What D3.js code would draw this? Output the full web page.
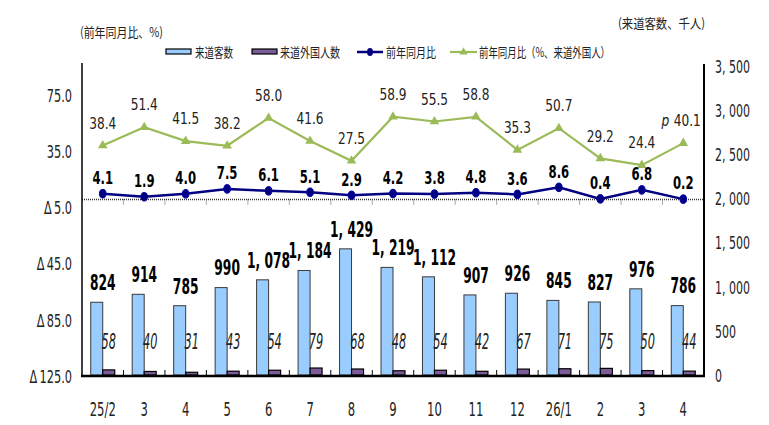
<!DOCTYPE html>
<html>
<head>
<meta charset="utf-8">
<script src="https://cdn.jsdelivr.net/npm/d3@7"></script>
<style>
  html, body { margin: 0; padding: 0; background: #fff; }
  svg { display: block; }
</style>
</head>
<body>
<svg id="chart" width="769" height="425"></svg>
<script>
// Monthly labels (year/month)
const categories = ["25/2", "3", "4", "5", "6", "7", "8", "9", "10", "11", "12", "26/1", "2", "3 ", "4 "];
const categoryLabels = ["25/2", "3", "4", "5", "6", "7", "8", "9", "10", "11", "12", "26/1", "2", "3", "4"];
// Visitors to Hokkaido (thousand persons)
const visitors = [824, 914, 785, 990, 1078, 1184, 1429, 1219, 1112, 907, 926, 845, 827, 976, 786];
// Foreign visitors (thousand persons)
const foreignVisitors = [58, 40, 31, 43, 54, 79, 68, 48, 54, 42, 67, 71, 75, 50, 44];
// Year-on-year change of visitors (%)
const visitorsYoY = [4.1, 1.9, 4.0, 7.5, 6.1, 5.1, 2.9, 4.2, 3.8, 4.8, 3.6, 8.6, 0.4, 6.8, 0.2];
// Year-on-year change of foreign visitors (%)
const foreignYoY = [38.4, 51.4, 41.5, 38.2, 58.0, 41.6, 27.5, 58.9, 55.5, 58.8, 35.3, 50.7, 29.2, 24.4, 40.1];
// Axis ticks
const leftTicks = [-125, -85, -45, -5, 35, 75];
const rightTicks = [0, 500, 1000, 1500, 2000, 2500, 3000, 3500];

const svg = d3.select("#chart");
const NARROW = "'Liberation Sans Narrow', 'Arial Narrow', 'DejaVu Sans Condensed', sans-serif";
const CJK = "'Noto Sans CJK JP', 'Noto Sans CJK SC', sans-serif";

const plot = { left: 82, right: 704, top: 66, bottom: 375 };

const x = d3.scaleBand().domain(categories).range([plot.left, plot.right]);
const xs = d3.scaleBand().domain(["visitors", "foreign"]).range([0, x.bandwidth()]).paddingInner(0).paddingOuter(0.728);
const yL = d3.scaleLinear().domain([-125, 95]).range([plot.bottom, plot.top]);
const yR = d3.scaleLinear().domain([0, 3500]).range([plot.bottom, plot.top]);
const cx = c => x(c) + x.bandwidth() / 2;

// condensed text helper
function label(g, px, py, str, o) {
  o = Object.assign({ size: 16, weight: "normal", style: "normal", sx: 1, anchor: "middle", fill: "#000", family: NARROW }, o || {});
  return g.append("text")
    .attr("transform", `translate(${px},${py}) scale(${o.sx},1)`)
    .attr("text-anchor", o.anchor)
    .attr("dominant-baseline", "central")
    .attr("font-family", o.family)
    .attr("font-size", o.size)
    .attr("font-weight", o.weight)
    .attr("font-style", o.style)
    .attr("fill", o.fill)
    .text(str);
}

// ---- bars ----
const bars = svg.append("g");
categories.forEach((c, i) => {
  bars.append("rect")
    .attr("x", x(c) + xs("visitors")).attr("width", xs.bandwidth())
    .attr("y", yR(visitors[i])).attr("height", yR(0) - yR(visitors[i]))
    .attr("fill", "#99ccff").attr("stroke", "#3a3a3a").attr("stroke-width", 1);
  bars.append("rect")
    .attr("x", x(c) + xs("foreign")).attr("width", xs.bandwidth())
    .attr("y", yR(foreignVisitors[i])).attr("height", yR(0) - yR(foreignVisitors[i]))
    .attr("fill", "#7b5c98").attr("stroke", "#000").attr("stroke-width", 1.2);
});

// ---- zero line for the YoY series (dotted) with category ticks ----
const zeroY = yL(0);
svg.append("line")
  .attr("x1", plot.left).attr("x2", plot.right).attr("y1", zeroY).attr("y2", zeroY)
  .attr("stroke", "#333").attr("stroke-width", 1.6).attr("stroke-dasharray", "1,1");
categories.forEach((c, i) => {
  if (i === 0) return;
  svg.append("line").attr("x1", x(c)).attr("x2", x(c)).attr("y1", zeroY).attr("y2", zeroY + 5)
    .attr("stroke", "#555").attr("stroke-width", 1).attr("stroke-dasharray", "1,1");
});

// ---- axes ----
const axes = svg.append("g");
axes.append("line").attr("x1", plot.left).attr("x2", plot.left).attr("y1", 63).attr("y2", plot.bottom + 1)
  .attr("stroke", "#000").attr("stroke-width", 1.5);
axes.append("line").attr("x1", plot.right).attr("x2", plot.right).attr("y1", 64).attr("y2", plot.bottom + 1)
  .attr("stroke", "#000").attr("stroke-width", 2);
axes.append("line").attr("x1", plot.left - 1).attr("x2", plot.right + 1).attr("y1", plot.bottom + 1).attr("y2", plot.bottom + 1)
  .attr("stroke", "#000").attr("stroke-width", 2.5);
categories.forEach((c, i) => {
  if (i === 0) return;
  axes.append("line").attr("x1", x(c)).attr("x2", x(c)).attr("y1", plot.bottom).attr("y2", plot.bottom - 5)
    .attr("stroke", "#000").attr("stroke-width", 1);
});

const fmtLeft = d => d < 0 ? "Δ\u2009" + Math.abs(d).toFixed(1) : d.toFixed(1);
leftTicks.forEach(t => label(axes, 72, yL(t) + 2, fmtLeft(t), { size: 18, sx: 0.7, anchor: "end", fill: "#222" }));
const fmtRight = d => d3.format(",")(d).replace(",", ", ");
rightTicks.forEach(t => label(axes, 715, yR(t) + 1, fmtRight(t), { size: 18, sx: 0.68, anchor: "start", fill: "#222" }));
categories.forEach((c, i) => label(axes, cx(c), 410, categoryLabels[i], { size: 19, sx: 0.68, fill: "#222" }));

// ---- lines ----
const lineL = d3.line().x((d, i) => cx(categories[i])).y(d => yL(d));

svg.append("path").datum(foreignYoY).attr("d", lineL)
  .attr("fill", "none").attr("stroke", "#9bbb59").attr("stroke-width", 2.2);
svg.append("g").selectAll("path").data(foreignYoY).join("path")
  .attr("transform", (d, i) => `translate(${cx(categories[i])},${yL(d)})`)
  .attr("d", d3.symbol(d3.symbolTriangle, 40))
  .attr("fill", "#9bbb59");

svg.append("path").datum(visitorsYoY).attr("d", lineL)
  .attr("fill", "none").attr("stroke", "#000080").attr("stroke-width", 2.5);
svg.append("g").selectAll("ellipse").data(visitorsYoY).join("ellipse")
  .attr("cx", (d, i) => cx(categories[i])).attr("cy", d => yL(d))
  .attr("rx", 3.3).attr("ry", 4.3)
  .attr("fill", "#000080").attr("stroke", "#0000b0").attr("stroke-width", 1);

// ---- data labels ----
const labels = svg.append("g");
foreignYoY.forEach((v, i) => {
  const c = categories[i];
  const s = v.toFixed(1);
  if (i === foreignYoY.length - 1) {
    label(labels, cx(c) - 18, yL(v) - 22, "p", { size: 15, sx: 0.9, style: "italic", fill: "#222" });
    label(labels, cx(c) + 4, yL(v) - 22, s, { size: 15, sx: 0.9, fill: "#222" });
  } else {
    label(labels, cx(c), yL(v) - 22, s, { size: 15, sx: 0.9, fill: "#222" });
  }
});
visitorsYoY.forEach((v, i) => {
  label(labels, cx(categories[i]), yL(v) - 16, v.toFixed(1), { size: 18, sx: 0.72, weight: "bold" });
});
const fmtBar = d => d3.format(",")(d).replace(",", ", ");
visitors.forEach((v, i) => {
  label(labels, cx(categories[i]), yR(v) - 20, fmtBar(v), { size: 22, sx: 0.62, weight: "bold" });
});
foreignVisitors.forEach((v, i) => {
  const c = categories[i];
  label(labels, x(c) + xs("foreign") + xs.bandwidth() / 2, 342, v, { size: 21, sx: 0.6, style: "italic", fill: "#222" });
});

// ---- titles & legend ----
const titles = svg.append("g").attr("font-family", CJK).attr("fill", "#222");
titles.append("text").attr("x", 80).attr("y", 37).attr("font-size", 13)
  .attr("textLength", 83).attr("lengthAdjust", "spacingAndGlyphs").text("(前年同月比、%)");
titles.append("text").attr("x", 618).attr("y", 28).attr("font-size", 13)
  .attr("textLength", 87).attr("lengthAdjust", "spacingAndGlyphs").text("(来道客数、千人)");

const legend = svg.append("g").attr("font-family", CJK).attr("fill", "#222");
const ly = 52;
legend.append("rect").attr("x", 166).attr("y", ly - 3).attr("width", 25).attr("height", 5)
  .attr("fill", "#99ccff").attr("stroke", "#000").attr("stroke-width", 1.2);
legend.append("text").attr("x", 195).attr("y", ly + 5).attr("font-size", 13)
  .attr("textLength", 38).attr("lengthAdjust", "spacingAndGlyphs").text("来道客数");
legend.append("rect").attr("x", 252).attr("y", ly - 3).attr("width", 25).attr("height", 5)
  .attr("fill", "#7b5c98").attr("stroke", "#000").attr("stroke-width", 1.2);
legend.append("text").attr("x", 280).attr("y", ly + 5).attr("font-size", 13)
  .attr("textLength", 60).attr("lengthAdjust", "spacingAndGlyphs").text("来道外国人数");
legend.append("line").attr("x1", 357).attr("x2", 383).attr("y1", ly).attr("y2", ly)
  .attr("stroke", "#000080").attr("stroke-width", 2.5);
legend.append("ellipse").attr("cx", 370).attr("cy", ly).attr("rx", 3).attr("ry", 4)
  .attr("fill", "#000080");
legend.append("text").attr("x", 386).attr("y", ly + 5).attr("font-size", 13)
  .attr("textLength", 50).attr("lengthAdjust", "spacingAndGlyphs").text("前年同月比");
legend.append("line").attr("x1", 450).attr("x2", 477).attr("y1", ly).attr("y2", ly)
  .attr("stroke", "#9bbb59").attr("stroke-width", 2.2);
legend.append("path").attr("transform", `translate(463.5,${ly})`)
  .attr("d", d3.symbol(d3.symbolTriangle, 30)).attr("fill", "#9bbb59");
legend.append("text").attr("x", 479).attr("y", ly + 5).attr("font-size", 13)
  .attr("textLength", 131).attr("lengthAdjust", "spacingAndGlyphs").text("前年同月比（%、来道外国人）");
</script>
</body>
</html>
